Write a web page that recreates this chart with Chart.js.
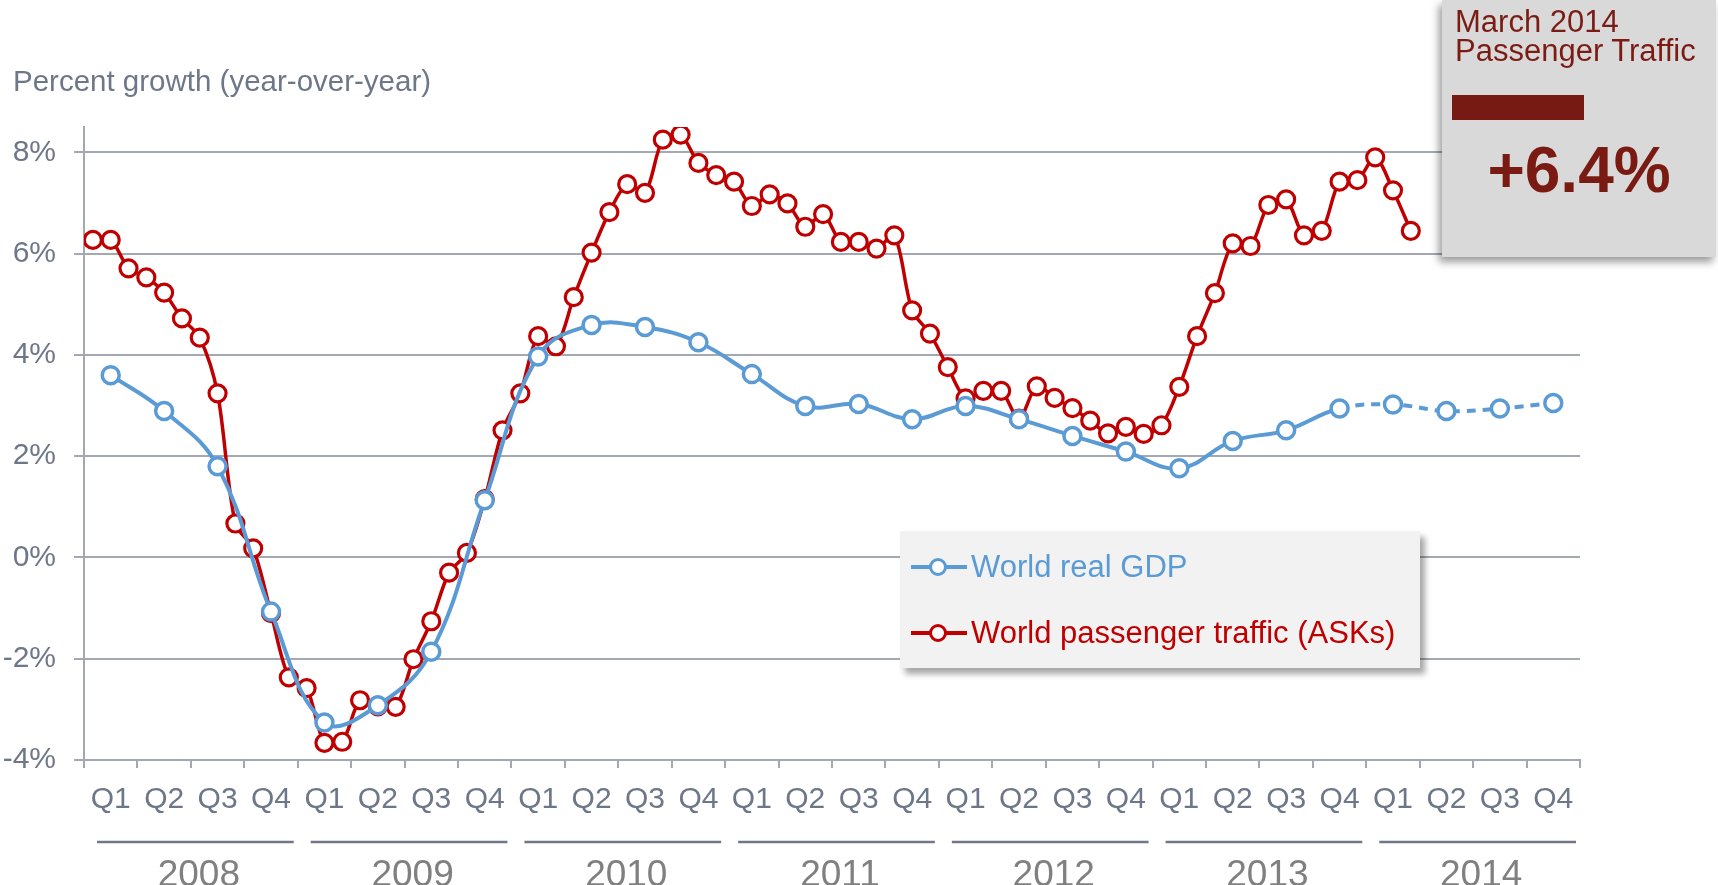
<!DOCTYPE html>
<html>
<head>
<meta charset="utf-8">
<script src="https://cdn.jsdelivr.net/npm/chart.js@4.4.1/dist/chart.umd.min.js"></script>
<style>
  html, body { margin: 0; padding: 0; background: #ffffff; }
  #wrap { position: relative; width: 1718px; height: 885px; font-family: "Liberation Sans", Arial, sans-serif; overflow: hidden; }
  #chart { position: absolute; left: 0; top: 0; }
  #title { position: absolute; left: 13px; top: 66px; font-size: 29.5px; line-height: 29.5px; color: #6e7789; white-space: nowrap; }
  #legend { position: absolute; left: 900px; top: 531px; width: 520px; height: 137px; background: #f2f2f2; box-shadow: 5px 6px 6px rgba(0,0,0,0.35); }
  .row { position: absolute; left: 0; width: 520px; height: 40px; line-height: 40px; font-size: 31px; white-space: nowrap; }
  .row svg { position: absolute; left: 11px; top: 0; }
  .row span { position: absolute; left: 71px; top: 0; }
  #note { position: absolute; left: 1442px; top: 0; width: 274px; height: 257px; background: #d9d9d9; box-shadow: -3px 5px 8px rgba(0,0,0,0.4); color: #7b1c14; }
  #noteText { position: absolute; left: 13px; top: 7px; font-size: 31px; line-height: 29.4px; white-space: nowrap; }
  #noteBar { position: absolute; left: 10px; top: 95px; width: 132px; height: 25px; background: #771a14; }
  #noteValue { position: absolute; left: 0; top: 138px; width: 274px; text-align: center; font-size: 64px; line-height: 64px; font-weight: bold; color: #7a1b13; }
</style>
</head>
<body>
<div id="wrap">
  <canvas id="chart" width="1718" height="885"></canvas>
  <div id="title">Percent growth (year-over-year)</div>
  <div id="legend"></div>
  <div id="note">
    <div id="noteText">March 2014<br>Passenger Traffic</div>
    <div id="noteBar"></div>
    <div id="noteValue">+6.4%</div>
  </div>
</div>
<script>
// ---------------- data ----------------
const yearLabels = ['2008', '2009', '2010', '2011', '2012', '2013', '2014'];
const quarterNames = ['Q1', 'Q2', 'Q3', 'Q4'];
const yTickValues = [-4, -2, 0, 2, 4, 6, 8];

// World real GDP, quarterly (2008 Q1 .. 2014 Q4); last 4 quarters are forecast (dashed)
const gdpValues = [
  3.60, 2.89, 1.80, -1.07,
  -3.26, -2.92, -1.86, 1.13,
  3.97, 4.59, 4.55, 4.25,
  3.62, 2.99, 3.03, 2.73,
  2.99, 2.73, 2.40, 2.09,
  1.76, 2.30, 2.51, 2.94,
  3.02, 2.89, 2.94, 3.05
];
const gdpActualQuarters = 24;

// World passenger traffic (ASKs), monthly (Jan 2008 .. Mar 2014)
const trafficValues = [
  6.27, 6.27, 5.71, 5.53, 5.23, 4.72, 4.34, 3.24, 0.67, 0.18, -1.10, -2.37,
  -2.58, -3.66, -3.64, -2.82, -2.94, -2.95, -2.01, -1.26, -0.30, 0.09, 1.15, 2.51,
  3.24, 4.37, 4.17, 5.14, 6.02, 6.82, 7.37, 7.20, 8.25, 8.35, 7.79, 7.55,
  7.42, 6.94, 7.17, 6.99, 6.53, 6.78, 6.23, 6.23, 6.10, 6.36, 4.88, 4.42,
  3.76, 3.14, 3.29, 3.29, 2.74, 3.38, 3.15, 2.95, 2.70, 2.45, 2.58, 2.44,
  2.61, 3.37, 4.37, 5.22, 6.20, 6.15, 6.96, 7.07, 6.36, 6.45, 7.42, 7.45,
  7.90, 7.25, 6.45
];

const seriesNames = ['World real GDP', 'World passenger traffic (ASKs)'];
const seriesColors = ['#5b9bd5', '#c00000'];

// ---------------- build ----------------
const quarterTicks = yearLabels.flatMap(() => quarterNames);
const monthsPerQuarter = 3;
const gdpPoints = gdpValues.map((v, i) => ({ x: i * monthsPerQuarter + monthsPerQuarter / 2, y: v }));
const trafficPoints = trafficValues.map((v, i) => ({ x: i + 0.5, y: v }));

const FONT = '"Liberation Sans", Arial, sans-serif';
const AXIS_GRAY = '#a3a8b3';
const TEXT_GRAY = '#6e7789';

const yearLinePlugin = {
  id: 'yearLines',
  afterDraw(chart) {
    const ys = chart.scales.years;
    const ctx = chart.ctx;
    const half = ys.width / (2 * yearLabels.length);
    ctx.save();
    ctx.strokeStyle = '#6f7788';
    ctx.lineWidth = 2.5;
    yearLabels.forEach((y, i) => {
      const c = ys.getPixelForValue(i);
      ctx.beginPath();
      ctx.moveTo(c - half + 13, ys.top + 2);
      ctx.lineTo(c + half - 4, ys.top + 2);
      ctx.stroke();
    });
    ctx.restore();
  }
};

const chart = new Chart(document.getElementById('chart'), {
  type: 'line',
  data: {
    labels: quarterTicks,
    datasets: [
      {
        label: seriesNames[0],
        data: gdpPoints,
        xAxisID: 'xv',
        borderColor: seriesColors[0],
        backgroundColor: '#ffffff',
        borderWidth: 4,
        tension: 0.4,
        pointRadius: 8.5,
        pointBorderWidth: 3.5,
        pointBackgroundColor: '#ffffff',
        pointBorderColor: seriesColors[0],
        segment: {
          borderDash: ctx => ctx.p0DataIndex >= gdpActualQuarters - 1 ? [9, 7] : undefined
        }
      },
      {
        label: seriesNames[1],
        data: trafficPoints,
        xAxisID: 'xv',
        borderColor: seriesColors[1],
        backgroundColor: '#ffffff',
        borderWidth: 3.5,
        tension: 0.3,
        pointRadius: 8.5,
        pointBorderWidth: 3.2,
        pointBackgroundColor: '#ffffff',
        pointBorderColor: seriesColors[1]
      }
    ]
  },
  options: {
    responsive: false,
    devicePixelRatio: 1,
    animation: false,
    layout: { padding: { top: 127, right: 138, bottom: 0, left: 0 } },
    plugins: { legend: { display: false }, tooltip: { enabled: false }, title: { display: false } },
    scales: {
      xv: { type: 'linear', display: false, min: 0, max: yearLabels.length * 12 },
      x: {
        type: 'category',
        position: 'bottom',
        weight: 0,
        offset: true,
        grid: { offset: true, drawOnChartArea: false, drawTicks: true, tickLength: 8, color: AXIS_GRAY, lineWidth: 2 },
        border: { display: true, color: AXIS_GRAY, width: 2 },
        ticks: { autoSkip: false, maxRotation: 0, padding: 14, color: TEXT_GRAY, font: { family: FONT, size: 30 } },
        afterFit(s) { s.height = 80; }
      },
      years: {
        type: 'category',
        labels: yearLabels,
        position: 'bottom',
        weight: 1,
        offset: true,
        grid: { display: false },
        border: { display: false },
        ticks: { autoSkip: false, maxRotation: 0, padding: 6, labelOffset: 8, color: '#808080', font: { family: FONT, size: 37 } },
        afterFit(s) { s.height = 45; }
      },
      y: {
        type: 'linear',
        min: -4,
        max: 8.5,
        afterBuildTicks(s) { s.ticks = yTickValues.map(v => ({ value: v })); },
        grid: { color: AXIS_GRAY, lineWidth: 2, tickLength: 10, drawTicks: true },
        border: { display: true, color: AXIS_GRAY, width: 2 },
        ticks: { padding: 18, color: TEXT_GRAY, font: { family: FONT, size: 30 }, callback: v => v + '%' },
        afterFit(s) { s.width = 84; }
      }
    }
  },
  plugins: [yearLinePlugin]
});

// HTML legend built from the chart's datasets
const legendEl = document.getElementById('legend');
const rowCenters = [36, 102];
chart.data.datasets.forEach((ds, i) => {
  const row = document.createElement('div');
  row.className = 'row';
  row.style.top = (rowCenters[i] - 20) + 'px';
  row.style.color = ds.borderColor;
  row.innerHTML =
    '<svg width="56" height="40" viewBox="0 0 56 40">' +
    '<line x1="0" y1="20" x2="56" y2="20" stroke="' + ds.borderColor + '" stroke-width="4"/>' +
    '<circle cx="27" cy="20" r="7.5" fill="#ffffff" stroke="' + ds.borderColor + '" stroke-width="3"/>' +
    '</svg><span></span>';
  row.querySelector('span').textContent = ds.label;
  legendEl.appendChild(row);
});
</script>
</body>
</html>
